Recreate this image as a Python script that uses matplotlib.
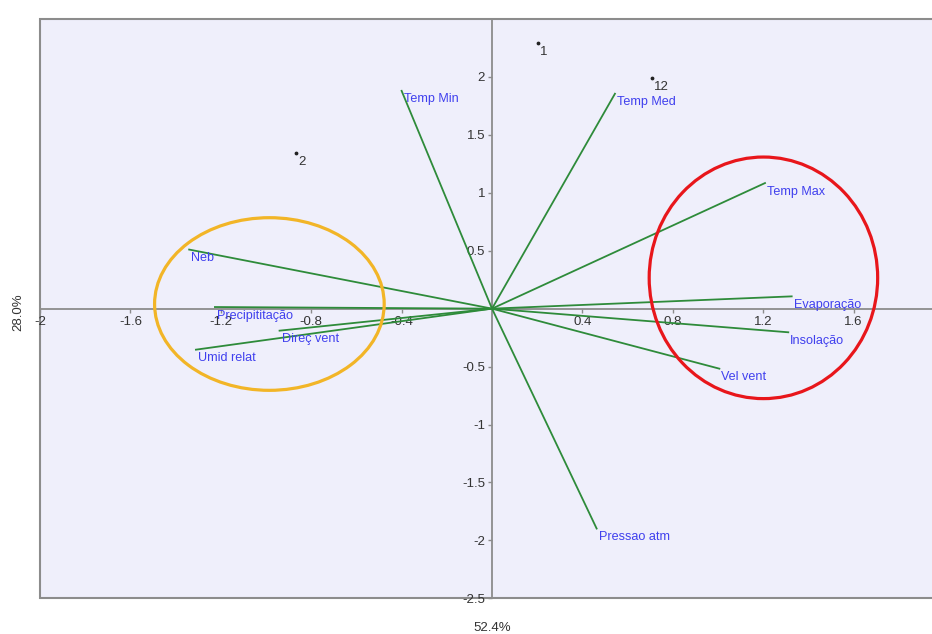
import matplotlib
matplotlib.use("Agg")
import matplotlib.pyplot as plt
from matplotlib.patches import Ellipse

plt.rcParams['font.family'] = ['Liberation Sans', 'DejaVu Sans']

# Variable loadings (vectors)
var_names = ["Temp Min", "Temp Med", "Temp Max", "Neb", "Precipititação",
             "Umid relat", "Direç vent", "Evaporação", "Insolação",
             "Vel vent", "Pressao atm"]
var_x = [-0.40, 0.544, 1.208, -1.34, -1.226, -1.31, -0.94, 1.326, 1.311, 1.006, 0.463]
var_y = [1.88, 1.855, 1.084, 0.51, 0.014, -0.354, -0.19, 0.106, -0.204, -0.518, -1.898]

# Observation scores
obs_labels = ["1", "12", "2"]
obs_x = [0.202, 0.707, -0.867]
obs_y = [2.295, 1.987, 1.343]

x_ticks = [-2, -1.6, -1.2, -0.8, -0.4, 0.4, 0.8, 1.2, 1.6]
y_ticks = [-2.5, -2, -1.5, -1, -0.5, 0.5, 1, 1.5, 2]
x_label = "52.4%"
y_label = "28.0%"

W, H = 932, 634
fig = plt.figure(figsize=(W / 100, H / 100), dpi=100)
left, right, top, bottom = 40, 944, 19, 598.3
ax = fig.add_axes([left / W, 1 - bottom / H, (right - left) / W, (bottom - top) / H])
ax.set_xlim(-2, 2)
ax.set_ylim(-2.5, 2.5)
ax.set_facecolor('#EFEFFB')
ax.patch.set_edgecolor('#8C8C8C')
ax.patch.set_linewidth(1.5)

for s in ['top', 'right']:
    ax.spines[s].set_visible(False)
ax.spines['left'].set_position(('data', 0))
ax.spines['bottom'].set_position(('data', 0))
for s in ['left', 'bottom']:
    ax.spines[s].set_color('#8C8C8C')
    ax.spines[s].set_linewidth(1.3)
    ax.spines[s].set_zorder(1)

ax.set_xticks(x_ticks)
ax.set_xticklabels([f"{v:g}" for v in x_ticks])
ax.set_yticks(y_ticks)
ax.set_yticklabels([f"{v:g}" for v in y_ticks])
ax.tick_params(axis='both', direction='out', length=3, width=1, color='#8C8C8C',
               labelsize=9.5, labelcolor='#333333', pad=2)

# vectors
for name, x, y in zip(var_names, var_x, var_y):
    ax.plot([0, x], [0, y], color='#2E8B3A', lw=1.3, zorder=3)
    ax.annotate(name, (x, y), xytext=(2, -8.5), textcoords='offset pixels',
                ha='left', va='center', fontsize=9.1, color='#4040EE', zorder=5)

# observations
ax.scatter(obs_x, obs_y, s=3, color='#222222', zorder=4)
for lab, x, y in zip(obs_labels, obs_x, obs_y):
    ax.annotate(lab, (x, y), xytext=(2, -9), textcoords='offset pixels',
                ha='left', va='center', fontsize=9.5, color='#333333', zorder=5)

# highlight ellipses
ax.add_patch(Ellipse((-0.985, 0.04), 1.016, 1.49, fill=False,
                     edgecolor='#F2B527', lw=2.3, zorder=6))
ax.add_patch(Ellipse((1.201, 0.266), 1.011, 2.085, fill=False,
                     edgecolor='#E8161B', lw=2.3, zorder=6))

fig.text(492 / W, 1 - 628 / H, x_label, ha='center', va='center', fontsize=9.5, color='#333333')
fig.text(18 / W, 1 - 312 / H, y_label, ha='center', va='center', rotation=90,
         fontsize=9.5, color='#333333')

fig.savefig("out.png", dpi=100)
